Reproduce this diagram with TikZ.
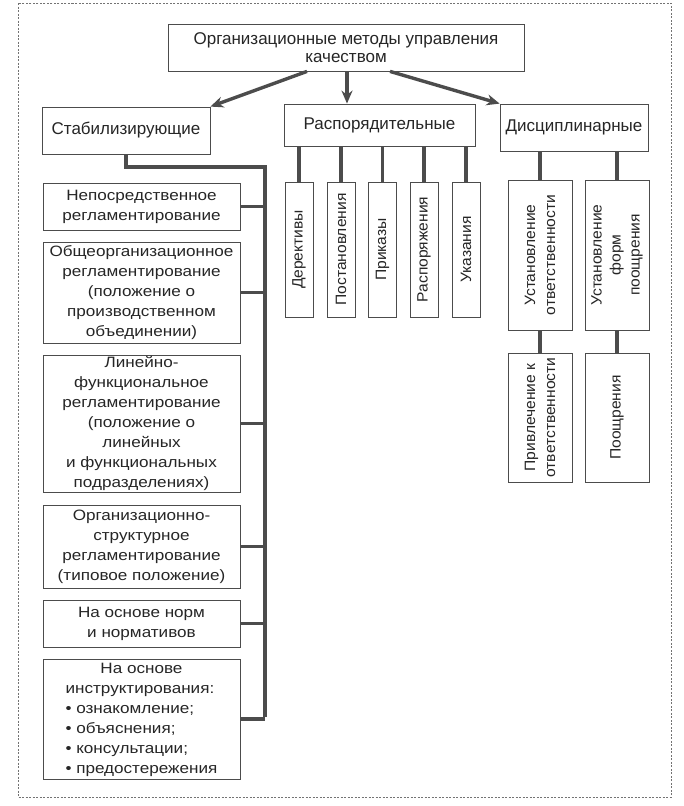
\documentclass[tikz,border=0pt]{standalone}
\usepackage{fontspec}
\setmainfont{Liberation Sans}[FakeStretch=1.14]
\newfontfamily\hdr{Liberation Sans}
\newfontfamily\vrt{Liberation Sans}[FakeStretch=1.04]
\usetikzlibrary{arrows.meta}
\begin{document}
\begin{tikzpicture}[x=1pt,y=-1pt,
  box/.style={draw=black!70, line width=0.8pt, fill=white, inner sep=0pt, text=black!85, align=center,
    font=\fontsize{15}{20}\selectfont},
  hbox/.style={box, font=\hdr\fontsize{17}{18}\selectfont},
  vbox/.style={box, rotate=90, font=\vrt\fontsize{15}{20}\selectfont},
  conn/.style={line width=3.4pt, draw=black!70},
  arr/.style={conn, -{Stealth[length=13pt,width=11pt]}},
  frame/.style={draw=black!55, line width=0.6pt, dash pattern=on 2pt off 1.5pt}]
\useasboundingbox (0,0) rectangle (684,806);
\draw[frame] (18,3) rectangle (671,797);

% top level
\node[hbox, minimum width=356pt, minimum height=47pt] (top) at (346,47.5)
  {Организационные методы управления\\качеством};
\node[hbox, minimum width=168pt, minimum height=47pt] (stab) at (126,130.5) {Стабилизирующие};
\node[hbox, minimum width=191pt, minimum height=42pt] (rasp) at (379.5,125) {Распорядительные};
\node[hbox, minimum width=148pt, minimum height=47pt] (disc) at (574,127.5) {Дисциплинарные};

\draw[arr] ([xshift=-39pt]top.south) -- (stab.north east);
\draw[arr] ([xshift=1pt]top.south) -- ([xshift=1pt]top.south |- rasp.north);
\draw[arr] ([xshift=44pt]top.south) -- (disc.north west);

% Raspor children
\node[vbox, minimum width=135pt, minimum height=28pt] (d1) at (299,249.5) {Дерективы};
\node[vbox, minimum width=135pt, minimum height=28pt] (d2) at (341,249.5) {Постановления};
\node[vbox, minimum width=135pt, minimum height=28pt] (d3) at (382.5,249.5) {Приказы};
\node[vbox, minimum width=135pt, minimum height=28pt] (d4) at (424,249.5) {Распоряжения};
\node[vbox, minimum width=135pt, minimum height=28pt] (d5) at (466,249.5) {Указания};
\foreach \n in {d1,d2,d3,d4,d5}
  \draw[conn] (\n.east |- rasp.south) -- (\n.east);

% Disc children
\node[vbox, minimum width=150pt, minimum height=64pt] (uo) at (540,255) {Установление\\ответственности};
\node[vbox, minimum width=150pt, minimum height=64pt, font=\vrt\fontsize{15}{19}\selectfont] (uf) at (617,255) {Установление\\форм\\поощрения};
\node[vbox, minimum width=129pt, minimum height=64pt] (pr) at (540,417.5) {Привлечение к\\ответственности};
\node[vbox, minimum width=129pt, minimum height=64pt] (po) at (617,417.5) {Поощрения};
\draw[conn] (uo.east |- disc.south) -- (uo.east);
\draw[conn] (uf.east |- disc.south) -- (uf.east);
\draw[conn] (uo.west) -- (pr.east);
\draw[conn] (uf.west) -- (po.east);

% Stab children
\node[box, minimum width=197pt, minimum height=47pt] (b1) at (141.5,206.5)
  {Непосредственное\\регламентирование};
\node[box, minimum width=197pt, minimum height=101pt] (b2) at (141.5,292.5)
  {Общеорганизационное\\регламентирование\\(положение о\\производственном\\объединении)};
\node[box, minimum width=197pt, minimum height=137pt] (b3) at (141.5,423.5)
  {Линейно-\\функциональное\\регламентирование\\(положение о\\линейных\\и функциональных\\подразделениях)};
\node[box, minimum width=197pt, minimum height=83pt] (b4) at (141.5,546.5)
  {Организационно-\\структурное\\регламентирование\\(типовое положение)};
\node[box, minimum width=197pt, minimum height=47pt] (b5) at (141.5,623.5)
  {На основе норм\\и нормативов};
\node[box, minimum width=197pt, minimum height=118pt] (b6) at (141.5,719)
  {\begin{tabular}{@{}l@{}}\multicolumn{1}{@{}c@{}}{На основе}\\инструктирования:\\• ознакомление;\\• объяснения;\\• консультации;\\• предостережения\end{tabular}};

\coordinate (bt) at (265,167);
\coordinate (bb) at (265,717);
\draw[conn] (stab.south) |- (bt) -- (bb);
\foreach \n in {b1,b2,b3,b4,b5,b6}
  \draw[conn] (\n.east) -- (\n.east -| bt);
\end{tikzpicture}
\end{document}
